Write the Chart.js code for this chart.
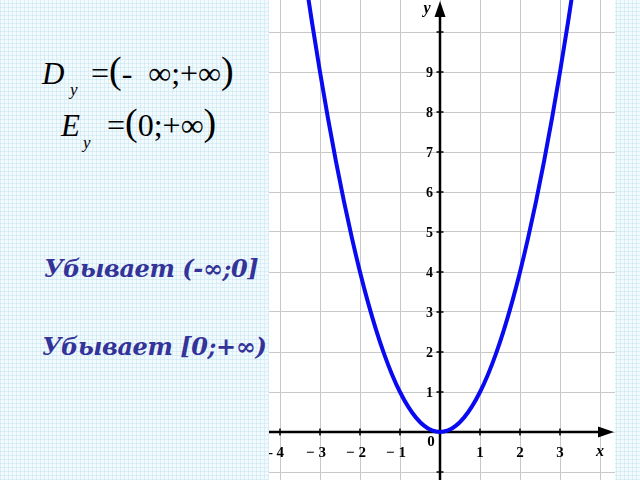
<!DOCTYPE html>
<html>
<head>
<meta charset="utf-8">
<script src="https://cdn.jsdelivr.net/npm/chart.js@4/dist/chart.umd.min.js"></script>
<style>
html,body{margin:0;padding:0;width:640px;height:480px;overflow:hidden;}
body{
  background-color:#f3fafd;
  background-image:
    repeating-linear-gradient(0deg, rgba(190,225,240,0.45) 0px, rgba(190,225,240,0.45) 1px, transparent 1px, transparent 4px),
    repeating-linear-gradient(90deg, rgba(190,225,240,0.45) 0px, rgba(190,225,240,0.45) 1px, transparent 1px, transparent 4px);
  position:relative;
}
#wrap{position:absolute;left:269px;top:0;width:346px;height:480px;background:#ffffff;}
.t{position:absolute;font-family:"Liberation Serif","Times New Roman",serif;color:#000;white-space:nowrap;line-height:1;}
.blue{color:#333399;font-family:"DejaVu Serif",serif;font-weight:bold;font-style:italic;font-size:24px;letter-spacing:-0.4px;}
.p{font-size:38px;position:relative;top:-1px;}
</style>
</head>
<body>
<div class="t" style="left:42px;top:58px;font-size:31px;font-style:italic;">D</div>
<div class="t" style="left:70px;top:81px;font-size:17px;font-style:italic;">y</div>
<div class="t" style="left:91px;top:52px;font-size:32px;">=<span class="p">(</span>-&nbsp; ∞;+∞<span class="p">)</span></div>
<div class="t" style="left:61px;top:110px;font-size:31px;font-style:italic;">E</div>
<div class="t" style="left:83px;top:134px;font-size:17px;font-style:italic;">y</div>
<div class="t" style="left:107px;top:104px;font-size:32px;">=<span class="p">(</span>0;+∞<span class="p">)</span></div>
<div class="t blue" style="left:44px;top:257px;">Убывает (-∞;0]</div>
<div class="t blue" style="left:42px;top:335px;">Убывает [0;+∞)</div>
<div id="wrap"><canvas id="c" width="346" height="480"></canvas></div>
<script>
const curveX = [-3.4,-3.2,-3.0,-2.8,-2.6,-2.4,-2.2,-2.0,-1.8,-1.6,-1.4,-1.2,-1.0,-0.8,-0.6,-0.4,-0.2,0,0.2,0.4,0.6,0.8,1.0,1.2,1.4,1.6,1.8,2.0,2.2,2.4,2.6,2.8,3.0,3.2,3.4];
const curveY = [11.56,10.24,9,7.84,6.76,5.76,4.84,4,3.24,2.56,1.96,1.44,1,0.64,0.36,0.16,0.04,0,0.04,0.16,0.36,0.64,1,1.44,1.96,2.56,3.24,4,4.84,5.76,6.76,7.84,9,10.24,11.56];
const xTickValues = [-4,-3,-2,-1,0,1,2,3,4];
const xTickLabels = ['- 4','− 3','− 2','− 1','','1','2','3',''];
const yTickValues = [-1,0,1,2,3,4,5,6,7,8,9,10];
const yTickLabels = ['','','1','2','3','4','5','6','7','8','9',''];
const axisNames = {x:'x', y:'y', origin:'0'};

const points = curveX.map((x,i)=>({x:x,y:curveY[i]}));

const axesPlugin = {
  id:'axesPlugin',
  beforeDatasetsDraw(chart){
    const ctx = chart.ctx, a = chart.chartArea;
    const xs = chart.scales.x, ys = chart.scales.y;
    const ox = xs.getPixelForValue(0), oy = ys.getPixelForValue(0);
    ctx.save();
    ctx.strokeStyle = '#000';
    ctx.lineWidth = 2.5;
    ctx.beginPath(); ctx.moveTo(a.left, oy); ctx.lineTo(a.right-10, oy); ctx.stroke();
    ctx.beginPath(); ctx.moveTo(ox, a.bottom); ctx.lineTo(ox, a.top+10); ctx.stroke();
    ctx.lineWidth = 1.5;
    xTickValues.forEach(v=>{ if(v===0) return; const p = xs.getPixelForValue(v);
      ctx.beginPath(); ctx.moveTo(p,oy-3.5); ctx.lineTo(p,oy+3.5); ctx.stroke(); });
    yTickValues.forEach(v=>{ if(v===0) return; const p = ys.getPixelForValue(v);
      ctx.beginPath(); ctx.moveTo(ox-3.5,p); ctx.lineTo(ox+3.5,p); ctx.stroke(); });
    ctx.fillStyle = '#000';
    ctx.beginPath(); ctx.moveTo(ox, a.top+1); ctx.lineTo(ox-5.5, a.top+17); ctx.lineTo(ox+5.5, a.top+17); ctx.closePath(); ctx.fill();
    ctx.beginPath(); ctx.moveTo(a.right-1, oy); ctx.lineTo(a.right-17, oy-5.5); ctx.lineTo(a.right-17, oy+5.5); ctx.closePath(); ctx.fill();
    // tick labels
    ctx.textBaseline = 'middle';
    ctx.font = 'bold 14px "Liberation Serif"';
    ctx.textAlign = 'right';
    yTickValues.forEach((v,i)=>{ if(!yTickLabels[i]) return;
      ctx.fillText(yTickLabels[i], ox-7, ys.getPixelForValue(v)+1); });
    ctx.font = 'bold 15px "Liberation Serif"';
    ctx.textAlign = 'center';
    xTickValues.forEach((v,i)=>{ if(!xTickLabels[i]) return;
      ctx.fillText(xTickLabels[i], xs.getPixelForValue(v)-(v<0?4:0), oy+21); });
    ctx.font = 'italic bold 16px "Liberation Serif"';
    ctx.fillText(axisNames.y, ox-13, a.top+9);
    ctx.fillText(axisNames.x, xs.getPixelForValue(4), oy+20);
    ctx.font = 'bold 15px "Liberation Serif"';
    ctx.fillText(axisNames.origin, ox-9, oy+10);
    ctx.restore();
  }
};

new Chart(document.getElementById('c'), {
  type:'scatter',
  data:{datasets:[{
    data:points,
    showLine:true,
    borderColor:'#0a0af0',
    borderWidth:4,
    pointRadius:0,
    cubicInterpolationMode:'monotone',
    fill:false
  }]},
  options:{
    responsive:false,
    animation:false,
    layout:{padding:0},
    plugins:{legend:{display:false},tooltip:{enabled:false}},
    scales:{
      x:{
        type:'linear', min:-4.275, max:4.375,
        position:{y:0},
        afterBuildTicks(s){ s.ticks = xTickValues.map(v=>({value:v})); },
        grid:{color:'#c8c8c8', lineWidth:1, drawTicks:false},
        border:{display:false},
        ticks:{display:false}
      },
      y:{
        type:'linear', min:-1.2, max:10.8,
        position:{x:0},
        afterBuildTicks(s){ s.ticks = yTickValues.map(v=>({value:v})); },
        grid:{color:'#c8c8c8', lineWidth:1, drawTicks:false},
        border:{display:false},
        ticks:{display:false}
      }
    }
  },
  plugins:[axesPlugin]
});
</script>
</body>
</html>
